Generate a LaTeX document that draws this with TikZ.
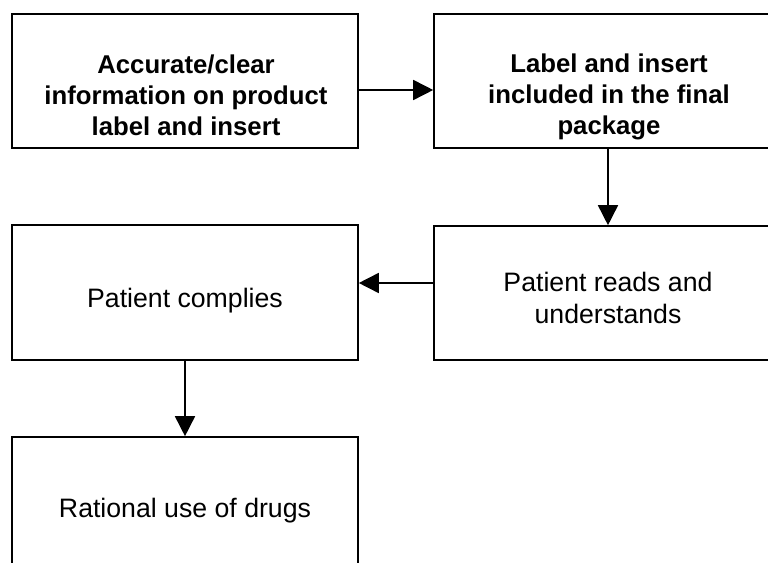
\documentclass[tikz,border=0pt]{standalone}
\usepackage{fontspec}
\setmainfont{Liberation Sans}
\usetikzlibrary{arrows.meta}
\begin{document}
\begin{tikzpicture}[x=0.75pt,y=-0.75pt,
  box/.style={draw=black,line width=1.2pt,rectangle,inner sep=0pt,fill=none},
  txt/.style={align=center,inner sep=0pt,font=\fontsize{20pt}{23.4pt}\selectfont},
  btxt/.style={txt,font=\fontsize{19.3pt}{23.6pt}\selectfont\bfseries},
  arr/.style={draw=black,line width=1.2pt,-{Triangle[length=15pt,width=15pt]}}]
\useasboundingbox (0,0) rectangle (768,563);
\clip (0,0) rectangle (768,563);
% boxes
\node[box,minimum width=259.5pt,minimum height=100.5pt] (b1) at (185,81) {};
\node[box,minimum width=262.5pt,minimum height=100.5pt] (b2) at (609,81) {};
\node[box,minimum width=259.5pt,minimum height=101.25pt] (b3) at (185,292.5) {};
\node[box,minimum width=262.5pt,minimum height=100.5pt] (b4) at (609,293) {};
\node[box,minimum width=259.5pt,minimum height=101.25pt] (b5) at (185,504.5) {};
% texts (base anchor = baseline of the last line)
\node[btxt,anchor=base] (t1) at (186,136) {Accurate/clear\\information on product\\label and insert};
\node[btxt,anchor=base] (t2) at (609,135) {Label and insert\\included in the final\\package};
\node[txt,anchor=base] (t3) at (185,307) {Patient complies};
\node[txt,anchor=base] (t4) at (608,323) {Patient reads and\\understands};
\node[txt,anchor=base] (t5) at (185,517) {Rational use of drugs};
% connectors
\draw[arr] (b1.east |- 0,90) -- (b2.west |- 0,90);
\draw[arr] (b2.south -| 608,0) -- (b4.north -| 608,0);
\draw[arr] (b4.west |- 0,283) -- (b3.east |- 0,283);
\draw[arr] (b3.south) -- (b5.north);
\end{tikzpicture}
\end{document}
